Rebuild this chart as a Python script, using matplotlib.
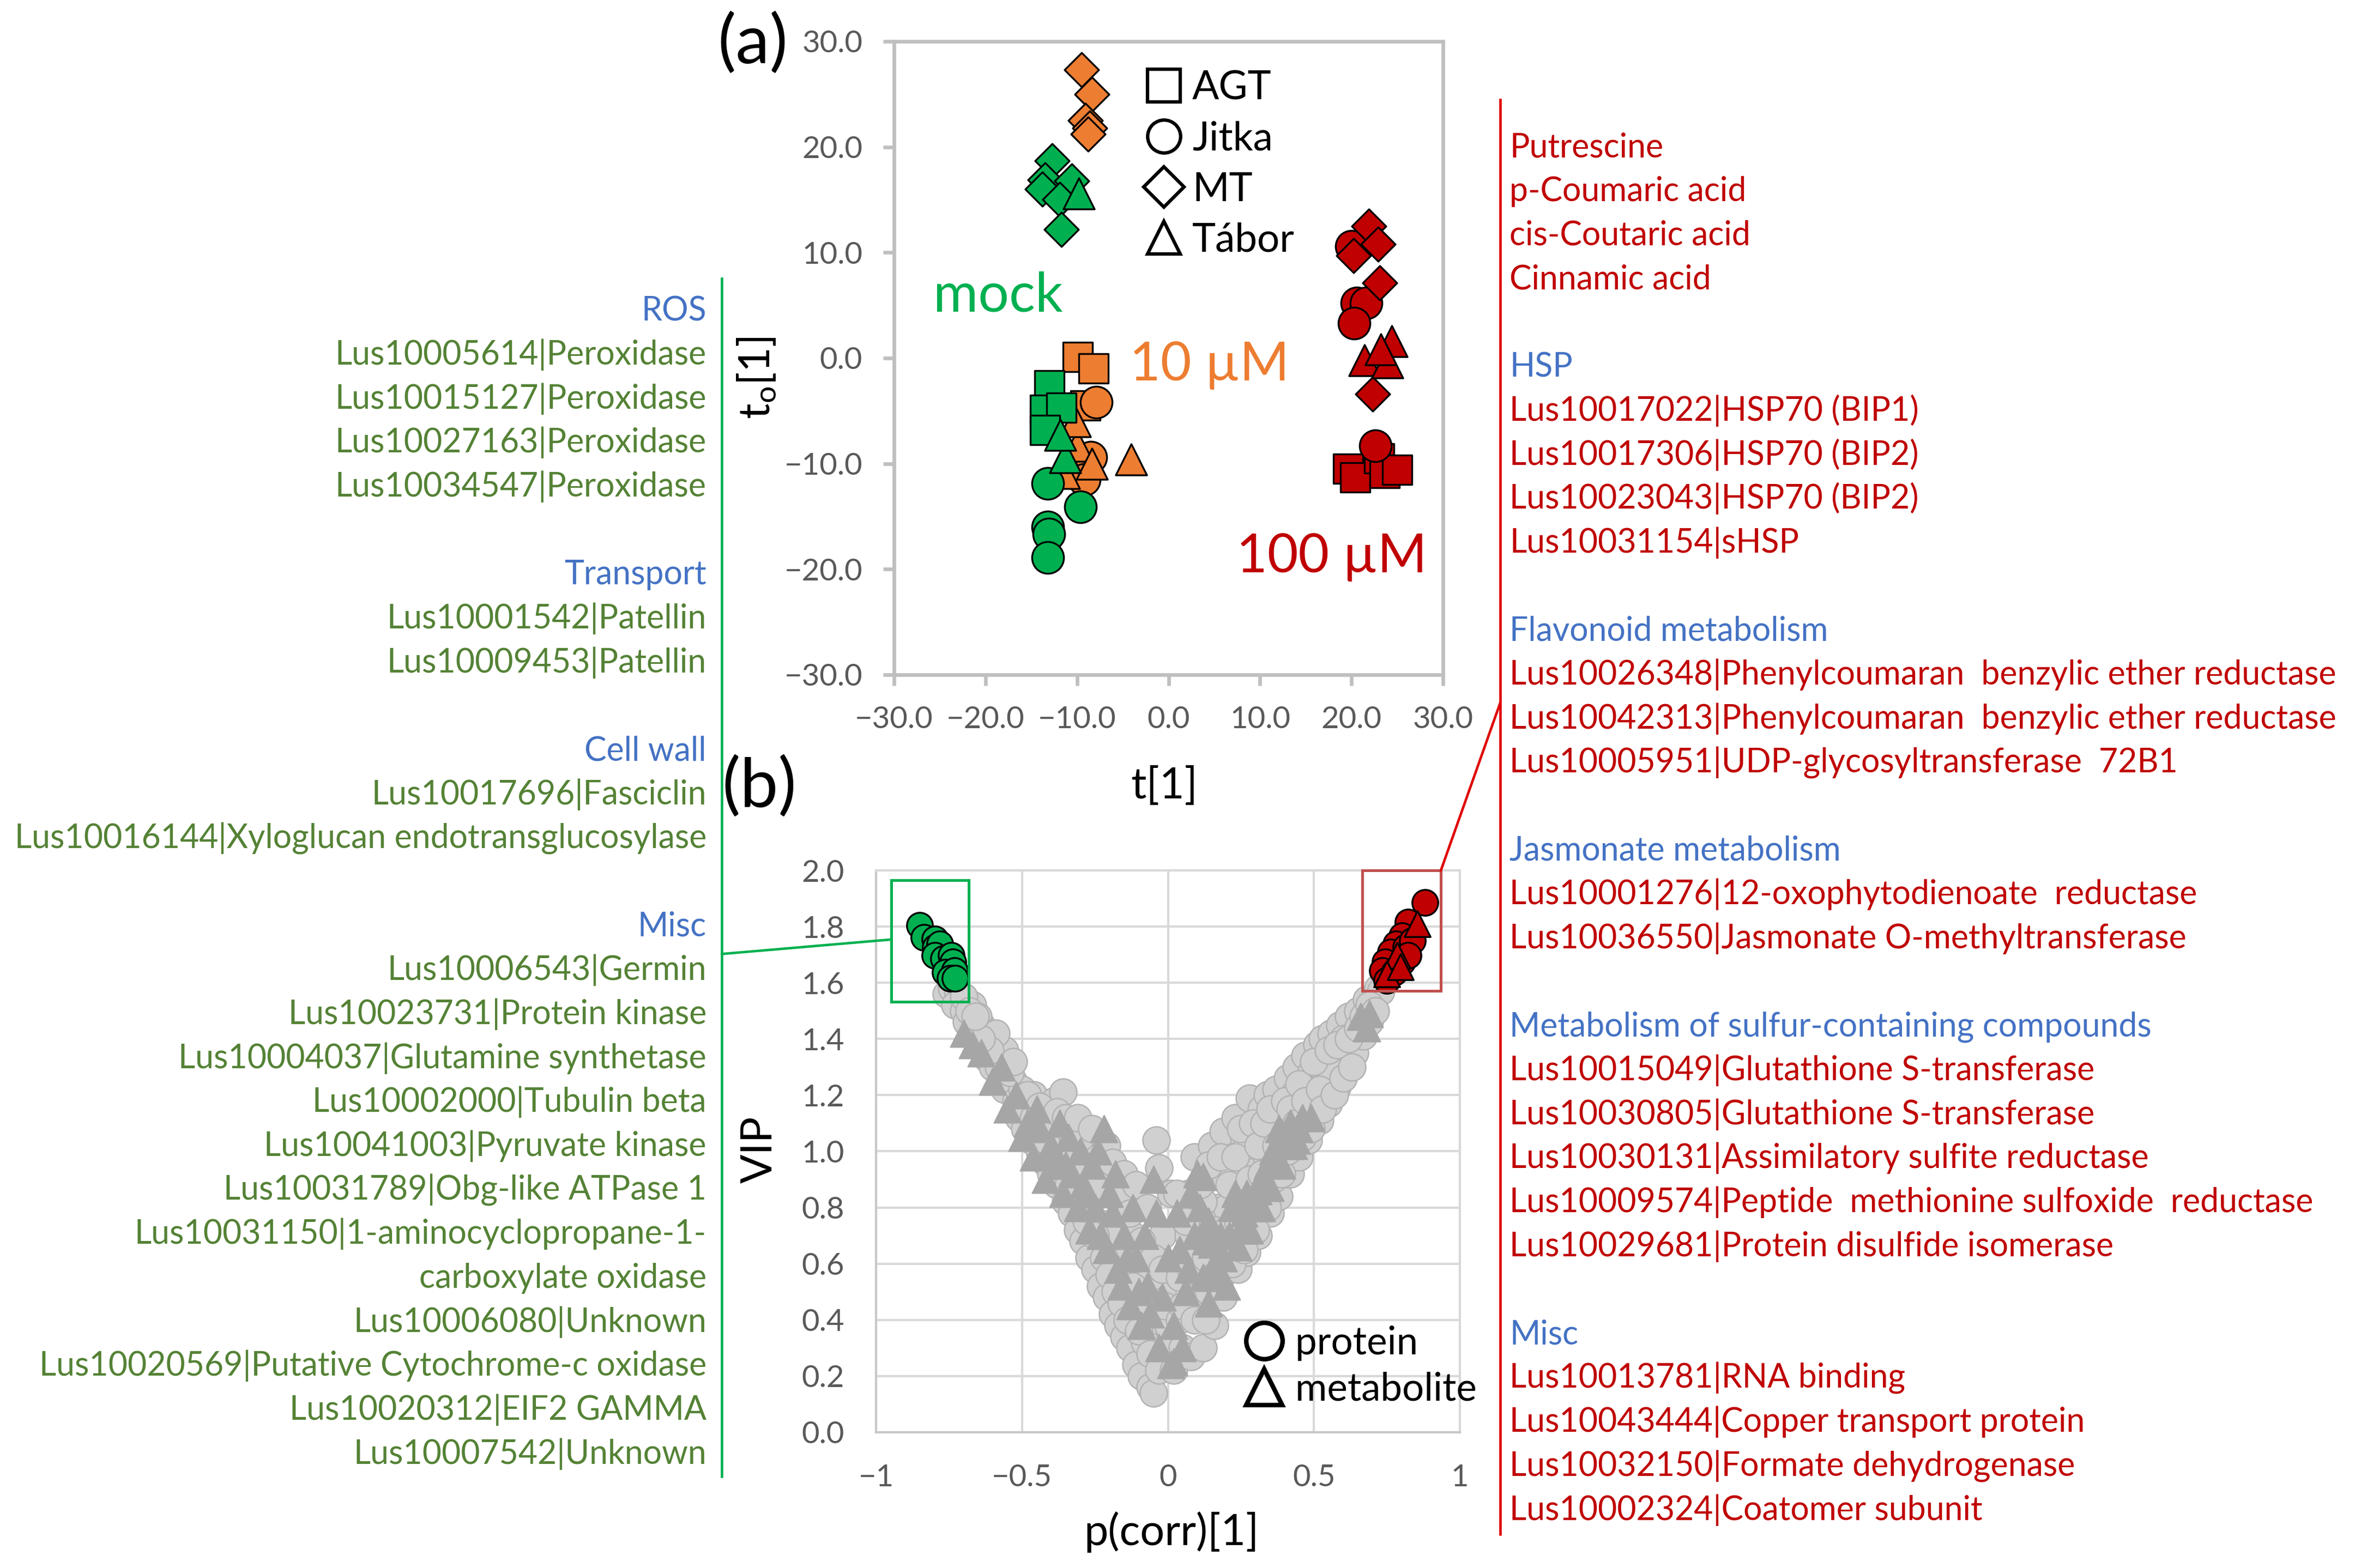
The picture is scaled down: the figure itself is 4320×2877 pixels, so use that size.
import matplotlib
matplotlib.use("Agg")
import matplotlib.pyplot as plt
from matplotlib.patches import Rectangle, ConnectionPatch
from matplotlib.lines import Line2D
from matplotlib.ticker import FuncFormatter, MultipleLocator

plt.rcParams['font.family'] = ['Lato', 'DejaVu Sans']
plt.rcParams['mathtext.fontset'] = 'custom'
plt.rcParams['mathtext.rm'] = 'Lato'
plt.rcParams['mathtext.it'] = 'Lato:italic'

# ---------------- (a) score plot: (t[1], to[1]) per cultivar ----------------
cultivars = ["AGT", "Jitka", "MT", "Tábor"]

scores_10um = {
    "AGT": [(-9.9, 0.1), (-8.2, -1.0), (-9.1, -4.5)],
    "Jitka": [(-7.9, -4.2), (-8.5, -9.4), (-9.2, -11.5)],
    "MT": [(-9.5, 27.3), (-8.4, 25.0), (-9.1, 22.5), (-8.6, 21.8), (-8.8, 21.2)],
    "Tábor": [(-10.0, -8.3), (-8.4, -10.0), (-11.4, -10.9), (-4.1, -9.6), (-10.2, -6.0)],
}
scores_mock = {
    "AGT": [(-13.0, -2.6), (-13.5, -4.9), (-11.7, -4.7), (-13.5, -6.8)],
    "Jitka": [(-13.2, -11.9), (-9.6, -14.1), (-13.2, -16.0), (-13.1, -16.7), (-13.2, -18.9)],
    "MT": [(-12.7, 18.7), (-13.5, 16.9), (-10.6, 16.8), (-13.8, 16.0), (-11.9, 15.0), (-11.7, 12.2)],
    "Tábor": [(-9.8, 15.6), (-11.3, -9.4), (-11.8, -7.3)],
}
scores_100um = {
    "AGT": [(19.6, -10.5), (20.4, -11.3), (23.0, -9.5), (23.6, -10.9), (25.0, -10.6)],
    "Jitka": [(20.0, 10.6), (20.6, 5.2), (21.6, 5.2), (20.3, 3.3), (22.6, -8.3)],
    "MT": [(21.9, 12.5), (22.9, 10.8), (20.2, 9.7), (23.1, 7.1), (22.3, -3.4)],
    "Tábor": [(24.4, 1.6), (21.4, -0.2), (23.9, -0.4), (23.2, 0.8)],
}

# ---------------- (b) S-plot: (p(corr)[1], VIP) ----------------
protein_points = [
    (-0.76, 1.56), (-0.74, 1.58), (-0.72, 1.57), (-0.73, 1.52), (-0.70, 1.50), (-0.69, 1.46),
    (-0.67, 1.52), (-0.66, 1.42), (-0.64, 1.45), (-0.63, 1.38), (-0.62, 1.33), (-0.60, 1.40),
    (-0.60, 1.30), (-0.58, 1.35), (-0.57, 1.26), (-0.56, 1.22), (-0.55, 1.30), (-0.53, 1.25),
    (-0.52, 1.18), (-0.51, 1.12), (-0.50, 1.22), (-0.49, 1.08), (-0.48, 1.16), (-0.47, 1.04),
    (-0.46, 1.20), (-0.45, 1.10), (-0.44, 1.00), (-0.43, 1.14), (-0.42, 0.96), (-0.41, 1.06),
    (-0.40, 0.92), (-0.39, 1.18), (-0.38, 0.88), (-0.37, 1.02), (-0.36, 1.21), (-0.35, 0.82),
    (-0.34, 0.98), (-0.33, 0.78), (-0.32, 1.10), (-0.31, 0.72), (-0.30, 0.90), (-0.29, 0.68),
    (-0.28, 1.02), (-0.27, 0.62), (-0.26, 0.84), (-0.25, 0.58), (-0.24, 0.98), (-0.23, 0.52),
    (-0.22, 0.74), (-0.21, 0.48), (-0.20, 0.90), (-0.19, 0.42), (-0.18, 0.64), (-0.17, 0.38),
    (-0.16, 0.80), (-0.15, 0.34), (-0.14, 0.56), (-0.13, 0.30), (-0.12, 0.70), (-0.11, 0.24),
    (-0.10, 0.46), (-0.09, 0.20), (-0.08, 0.60), (-0.07, 0.35), (-0.06, 0.16), (-0.05, 0.14),
    (-0.04, 1.04), (-0.03, 0.94), (-0.02, 0.50), (-0.01, 0.28),
    (-0.65, 1.48), (-0.62, 1.42), (-0.58, 1.30), (-0.54, 1.28), (-0.50, 1.15), (-0.45, 1.05),
    (-0.41, 1.12), (-0.37, 1.08), (-0.33, 0.95), (-0.30, 1.05), (-0.27, 0.80), (-0.23, 0.85),
    (-0.20, 0.70), (-0.17, 0.62), (-0.14, 0.50), (-0.12, 0.40), (-0.08, 0.32), (-0.06, 0.55),
    (-0.04, 0.40), (-0.02, 0.70), (0.00, 0.38), (0.01, 0.85), (-0.70, 1.55), (-0.68, 1.50),
    (-0.48, 1.20), (-0.46, 1.12), (-0.44, 1.16), (-0.42, 1.04), (-0.40, 1.10), (-0.38, 1.14),
    (-0.36, 0.95), (-0.35, 1.12), (-0.34, 0.88), (-0.32, 0.98), (-0.31, 1.12), (-0.29, 0.95),
    (-0.28, 0.75), (-0.26, 1.08), (-0.25, 0.70), (-0.24, 0.88), (-0.22, 0.62), (-0.21, 1.02),
    (-0.20, 0.56), (-0.19, 0.96), (-0.18, 0.50), (-0.17, 0.85), (-0.16, 0.46), (-0.15, 0.92),
    (-0.14, 0.40), (-0.13, 0.78), (-0.12, 0.52), (-0.11, 0.88), (-0.10, 0.36), (-0.09, 0.68),
    (-0.08, 0.45), (-0.07, 0.80), (-0.06, 0.28), (-0.05, 0.62), (-0.03, 0.22), (-0.02, 0.58),
    (-0.01, 0.45), (0.00, 0.30), (-0.56, 1.36), (-0.53, 1.32), (-0.59, 1.42), (-0.61, 1.36),
    (-0.64, 1.40), (-0.66, 1.48),
    (0.02, 0.22), (0.04, 0.40), (0.05, 0.30), (0.06, 0.62), (0.07, 0.85), (0.08, 0.27),
    (0.09, 0.98), (0.10, 0.45), (0.11, 0.72), (0.12, 0.30), (0.13, 0.90), (0.14, 0.50),
    (0.15, 1.02), (0.16, 0.38), (0.17, 0.80), (0.18, 0.55), (0.19, 1.07), (0.20, 0.62),
    (0.21, 0.95), (0.22, 0.70), (0.23, 1.12), (0.24, 0.58), (0.25, 0.88), (0.26, 1.05),
    (0.27, 0.64), (0.28, 1.19), (0.29, 0.78), (0.30, 0.98), (0.31, 0.70), (0.32, 1.15),
    (0.33, 0.86), (0.34, 1.20), (0.35, 0.78), (0.36, 1.04), (0.37, 1.22), (0.38, 0.84),
    (0.39, 1.12), (0.40, 0.92), (0.41, 1.26), (0.42, 0.92), (0.43, 1.08), (0.44, 1.30),
    (0.45, 0.98), (0.46, 1.20), (0.47, 1.34), (0.48, 1.04), (0.49, 1.28), (0.50, 1.12),
    (0.51, 1.38), (0.52, 1.11), (0.53, 1.40), (0.54, 1.20), (0.55, 1.17), (0.56, 1.42),
    (0.57, 1.28), (0.58, 1.23), (0.59, 1.45), (0.60, 1.32), (0.61, 1.29), (0.62, 1.48),
    (0.63, 1.36), (0.64, 1.35), (0.65, 1.50), (0.66, 1.42), (0.67, 1.41), (0.68, 1.54),
    (0.69, 1.46), (0.70, 1.50), (0.71, 1.56), (0.72, 1.58), (0.73, 1.57),
    (0.20, 0.80), (0.25, 0.95), (0.30, 0.85), (0.35, 1.00), (0.40, 1.05), (0.45, 1.15),
    (0.50, 1.25), (0.55, 1.30), (0.60, 1.40), (0.33, 0.92), (0.38, 1.10), (0.43, 1.20),
    (0.48, 1.22), (0.27, 1.02), (0.22, 0.90), (0.17, 0.92), (0.12, 0.82), (0.07, 0.70),
    (0.04, 0.55), (0.03, 0.85),
    (0.05, 0.45), (0.06, 0.75), (0.08, 0.58), (0.09, 0.40), (0.10, 0.65), (0.11, 0.88),
    (0.13, 0.40), (0.13, 0.62), (0.14, 0.95), (0.15, 0.55), (0.16, 0.72), (0.18, 0.98),
    (0.19, 0.48), (0.20, 0.72), (0.21, 0.88), (0.22, 0.60), (0.23, 0.98), (0.24, 0.75),
    (0.25, 1.08), (0.26, 0.65), (0.28, 0.90), (0.29, 1.10), (0.30, 0.72), (0.31, 1.02),
    (0.32, 0.92), (0.33, 1.10), (0.34, 0.80), (0.35, 1.15), (0.36, 0.90), (0.37, 1.02),
    (0.39, 0.92), (0.40, 1.18), (0.41, 1.00), (0.42, 1.15), (0.44, 1.10), (0.45, 1.24),
    (0.46, 1.05), (0.47, 1.18), (0.49, 1.08), (0.50, 1.32), (0.52, 1.22), (0.53, 1.15),
    (0.55, 1.36), (0.57, 1.20), (0.58, 1.38), (0.60, 1.26), (0.62, 1.40), (0.63, 1.30),
    (0.65, 1.44), (0.67, 1.48), (0.69, 1.52), (0.71, 1.50),
]
metabolite_points = [
    (-0.70, 1.42), (-0.67, 1.38), (-0.64, 1.35), (-0.60, 1.25), (-0.57, 1.30), (-0.55, 1.15),
    (-0.52, 1.20), (-0.50, 1.05), (-0.48, 1.10), (-0.46, 0.98), (-0.44, 1.08), (-0.42, 0.90),
    (-0.40, 1.02), (-0.38, 0.95), (-0.36, 0.85), (-0.34, 1.05), (-0.33, 0.92), (-0.31, 0.80),
    (-0.29, 0.88), (-0.27, 0.72), (-0.25, 0.80), (-0.22, 1.08), (-0.24, 1.00), (-0.21, 0.65),
    (-0.19, 0.78), (-0.17, 0.58), (-0.15, 0.70), (-0.13, 0.45), (-0.11, 0.62), (-0.09, 0.38),
    (-0.07, 0.52), (-0.05, 0.90), (-0.04, 0.78), (-0.03, 0.30), (0.00, 0.62), (0.01, 0.24),
    (0.03, 0.78), (0.06, 0.50), (0.08, 0.85), (0.10, 0.92), (0.12, 0.55), (0.14, 0.75),
    (0.16, 0.60), (0.18, 0.70), (0.20, 0.52), (0.22, 0.80), (0.24, 0.66), (0.26, 0.78),
    (0.28, 0.72), (0.30, 0.86), (0.32, 0.80), (0.34, 0.95), (0.36, 1.00), (0.38, 1.08),
    (0.40, 1.02), (0.42, 1.10), (0.44, 1.04), (0.46, 1.12), (0.66, 1.48), (0.68, 1.44),
    (0.69, 1.49), (0.49, 1.12), (0.35, 0.87), (0.31, 0.86), (0.12, 0.91), (0.11, 0.80),
    (0.15, 0.67), (0.07, 0.58), (0.14, 0.46), (0.02, 0.38), (0.02, 0.25),
    (-0.45, 1.15), (-0.41, 0.98), (-0.37, 1.10), (-0.35, 0.95), (-0.30, 1.00), (-0.28, 0.85),
    (-0.26, 0.95), (-0.23, 0.70), (-0.20, 0.85), (-0.18, 0.92), (-0.16, 0.52), (-0.14, 0.62),
    (-0.12, 0.80), (-0.10, 0.50), (-0.08, 0.70), (-0.06, 0.42), (-0.02, 0.48), (0.04, 0.65),
    (0.05, 0.30),
    (0.09, 0.70), (0.13, 0.68), (0.17, 0.55), (0.19, 0.62), (0.21, 0.70), (0.23, 0.85),
    (0.25, 0.72), (0.27, 0.85), (0.29, 0.80), (0.33, 0.88), (0.37, 0.98), (0.39, 0.95),
    (0.41, 1.06), (0.43, 1.02), (0.45, 1.08),
]
mock_marked = [
    (-0.850, 1.805), (-0.836, 1.762), (-0.799, 1.756), (-0.796, 1.727), (-0.782, 1.738),
    (-0.799, 1.697), (-0.769, 1.685), (-0.742, 1.697), (-0.736, 1.674), (-0.762, 1.638),
    (-0.732, 1.643), (-0.746, 1.615), (-0.729, 1.615),
]
high_marked_protein = [
    (0.881, 1.885), (0.823, 1.815), (0.803, 1.768), (0.782, 1.738), (0.762, 1.709),
    (0.816, 1.726), (0.837, 1.750), (0.745, 1.674), (0.735, 1.644), (0.749, 1.609),
    (0.776, 1.638), (0.803, 1.674), (0.823, 1.697),
]
high_marked_metabolite = [(0.854, 1.809), (0.786, 1.697), (0.749, 1.632), (0.796, 1.656)]

# ---------------- annotation lists ----------------
left_rows = [
    ("ROS", "cat"),
    ("Lus10005614|Peroxidase", "item"),
    ("Lus10015127|Peroxidase", "item"),
    ("Lus10027163|Peroxidase", "item"),
    ("Lus10034547|Peroxidase", "item"),
    ("", None),
    ("Transport", "cat"),
    ("Lus10001542|Patellin", "item"),
    ("Lus10009453|Patellin", "item"),
    ("", None),
    ("Cell wall", "cat"),
    ("Lus10017696|Fasciclin", "item"),
    ("Lus10016144|Xyloglucan endotransglucosylase", "item"),
    ("", None),
    ("Misc", "cat"),
    ("Lus10006543|Germin", "item"),
    ("Lus10023731|Protein kinase", "item"),
    ("Lus10004037|Glutamine synthetase", "item"),
    ("Lus10002000|Tubulin beta", "item"),
    ("Lus10041003|Pyruvate kinase", "item"),
    ("Lus10031789|Obg-like ATPase 1", "item"),
    ("Lus10031150|1-aminocyclopropane-1-", "item"),
    ("carboxylate oxidase", "item"),
    ("Lus10006080|Unknown", "item"),
    ("Lus10020569|Putative Cytochrome-c oxidase", "item"),
    ("Lus10020312|EIF2 GAMMA", "item"),
    ("Lus10007542|Unknown", "item"),
]
right_rows = [
    ("Putrescine", "item"),
    ("p-Coumaric acid", "item"),
    ("cis-Coutaric acid", "item"),
    ("Cinnamic acid", "item"),
    ("", None),
    ("HSP", "cat"),
    ("Lus10017022|HSP70 (BIP1)", "item"),
    ("Lus10017306|HSP70 (BIP2)", "item"),
    ("Lus10023043|HSP70 (BIP2)", "item"),
    ("Lus10031154|sHSP", "item"),
    ("", None),
    ("Flavonoid metabolism", "cat"),
    ("Lus10026348|Phenylcoumaran  benzylic ether reductase", "item"),
    ("Lus10042313|Phenylcoumaran  benzylic ether reductase", "item"),
    ("Lus10005951|UDP-glycosyltransferase  72B1", "item"),
    ("", None),
    ("Jasmonate metabolism", "cat"),
    ("Lus10001276|12-oxophytodienoate  reductase", "item"),
    ("Lus10036550|Jasmonate O-methyltransferase", "item"),
    ("", None),
    ("Metabolism of sulfur-containing compounds", "cat"),
    ("Lus10015049|Glutathione S-transferase", "item"),
    ("Lus10030805|Glutathione S-transferase", "item"),
    ("Lus10030131|Assimilatory sulfite reductase", "item"),
    ("Lus10009574|Peptide  methionine sulfoxide  reductase", "item"),
    ("Lus10029681|Protein disulfide isomerase", "item"),
    ("", None),
    ("Misc", "cat"),
    ("Lus10013781|RNA binding", "item"),
    ("Lus10043444|Copper transport protein", "item"),
    ("Lus10032150|Formate dehydrogenase", "item"),
    ("Lus10002324|Coatomer subunit", "item"),
]

GREEN = "#00B050"
ORANGE = "#ED7D31"
RED = "#C00000"
TXT_GREEN = "#548235"
TXT_BLUE = "#4472C4"
TICK_GRAY = "#595959"

fig = plt.figure(figsize=(14.4, 9.59), dpi=300)
FIG_H = 9.59

# ================= panel (a) =================
ax_a = fig.add_axes([0.3796, 0.5697, 0.2332, 0.4039])
marker_of = {"AGT": "s", "Jitka": "o", "MT": "D", "Tábor": "^"}
size_of = {"s": 174, "o": 196, "D": 114, "^": 188}
for scores, col in [(scores_10um, ORANGE), (scores_mock, GREEN), (scores_100um, RED)]:
    for cv in cultivars:
        pts = scores[cv]
        m = marker_of[cv]
        ax_a.scatter([p[0] for p in pts], [p[1] for p in pts], marker=m, s=size_of[m],
                     facecolor=col, edgecolor="black", linewidth=0.8, zorder=3)

ax_a.set_xlim(-30, 30)
ax_a.set_ylim(-30, 30)
ax_a.xaxis.set_major_locator(MultipleLocator(10))
ax_a.yaxis.set_major_locator(MultipleLocator(10))
fmt1 = FuncFormatter(lambda v, p: f"{v:.1f}".replace("-", "\u2212"))
ax_a.xaxis.set_major_formatter(fmt1)
ax_a.yaxis.set_major_formatter(fmt1)
for sp in ax_a.spines.values():
    sp.set_color("#BFBFBF")
    sp.set_linewidth(1.6)
ax_a.tick_params(direction="out", length=4.8, width=1.6, color="#BFBFBF",
                 labelcolor=TICK_GRAY, labelsize=13.5, pad=9)

ax_a.set_xlabel("t[1]", fontsize=19, va="center")
ax_a.xaxis.set_label_coords(0.492, -0.176)
ax_a.set_ylabel(r"t$_{\mathregular{o}}$[1]", fontsize=19, va="center")
ax_a.yaxis.set_label_coords(-0.250, 0.469)

ax_a.text(-25.7, 4.4, "mock", color=GREEN, fontsize=24, va="baseline")
ax_a.text(-4.25, -2.1, "10 µM", color=ORANGE, fontsize=23.5, va="baseline")
ax_a.text(7.4, -20.3, "100 µM", color=RED, fontsize=23.5, va="baseline")

leg_a = [Line2D([], [], ls="none", marker=marker_of[cv], mfc="none", mec="black", mew=1.5,
                ms=(12.5 if marker_of[cv] == "D" else 14.5), label=cv) for cv in cultivars]
ax_a.legend(handles=leg_a, frameon=False, loc="upper left", bbox_to_anchor=(0.455, 0.955),
            borderaxespad=0, borderpad=0, handlelength=1.0, handletextpad=0.22,
            labelspacing=0.36, fontsize=17.5)

# ================= panel (b) =================
ax_b = fig.add_axes([0.3720, 0.0866, 0.2479, 0.3583])
ax_b.scatter([p[0] for p in protein_points], [p[1] for p in protein_points], marker="o", s=144,
             facecolor="#D0D0D0", edgecolor="#B2B2B2", linewidth=0.6, zorder=2)
ax_b.scatter([p[0] for p in metabolite_points], [p[1] for p in metabolite_points], marker="^",
             s=144, facecolor="#A6A6A6", edgecolor="#A6A6A6", linewidth=0.5, zorder=2)
ax_b.scatter([p[0] for p in mock_marked], [p[1] for p in mock_marked], marker="o", s=130,
             facecolor=GREEN, edgecolor="black", linewidth=0.8, zorder=3)
ax_b.scatter([p[0] for p in high_marked_protein], [p[1] for p in high_marked_protein], marker="o",
             s=130, facecolor=RED, edgecolor="black", linewidth=0.8, zorder=3)
ax_b.scatter([p[0] for p in high_marked_metabolite], [p[1] for p in high_marked_metabolite],
             marker="^", s=130, facecolor=RED, edgecolor="black", linewidth=0.8, zorder=4)

ax_b.set_xlim(-1, 1)
ax_b.set_ylim(0, 2.0)
ax_b.xaxis.set_major_locator(MultipleLocator(0.5))
ax_b.yaxis.set_major_locator(MultipleLocator(0.2))
ax_b.xaxis.set_major_formatter(FuncFormatter(lambda v, p: f"{v:g}".replace("-", "\u2212")))
ax_b.yaxis.set_major_formatter(FuncFormatter(lambda v, p: f"{v:.1f}"))
ax_b.grid(True, color="#D9D9D9", linewidth=1.0)
ax_b.set_axisbelow(True)
for sp in ax_b.spines.values():
    sp.set_color("#D9D9D9")
    sp.set_linewidth(1.0)
ax_b.spines["left"].set_color("#C8C8C8")
ax_b.spines["bottom"].set_color("#C8C8C8")
ax_b.tick_params(length=0, labelcolor=TICK_GRAY, labelsize=13.5, pad=14)

ax_b.set_xlabel("p(corr)[1]", fontsize=19, va="center")
ax_b.xaxis.set_label_coords(0.506, -0.178)
ax_b.set_ylabel("VIP", fontsize=19, va="center")
ax_b.yaxis.set_label_coords(-0.199, 0.503)

leg_b = [
    Line2D([], [], ls="none", marker="o", mfc="none", mec="black", mew=2.0, ms=16, label="protein"),
    Line2D([], [], ls="none", marker="^", mfc="none", mec="black", mew=2.0, ms=16, label="metabolite"),
]
ax_b.legend(handles=leg_b, frameon=False, loc="upper left", bbox_to_anchor=(0.632, 0.19),
            borderaxespad=0, borderpad=0, handlelength=1.0, handletextpad=0.3,
            labelspacing=0.28, fontsize=17)

# selection boxes
ax_b.add_patch(Rectangle((-0.948, 1.533), 0.266, 0.432, fill=False, edgecolor=GREEN,
                         linewidth=1.2, zorder=5, clip_on=False))
ax_b.add_patch(Rectangle((0.665, 1.572), 0.270, 0.428, fill=False, edgecolor="#C0504D",
                         linewidth=1.2, zorder=5, clip_on=False))

# panel letters
fig.text(0.3197, 0.9725, "(a)", fontsize=30, ha="center", va="center")
fig.text(0.3225, 0.4984, "(b)", fontsize=30, ha="center", va="center")

# brackets and connectors
fig.add_artist(Line2D([0.3065, 0.3065], [0.0584, 0.8225], transform=fig.transFigure,
                      color=GREEN, linewidth=1.1))
fig.add_artist(Line2D([0.637, 0.637], [0.0216, 0.9364], transform=fig.transFigure,
                      color="#E00000", linewidth=1.1))
fig.add_artist(ConnectionPatch(xyA=(0.3065, 0.3916), coordsA=fig.transFigure,
                               xyB=(-0.948, 1.754), coordsB=ax_b.transData,
                               color=GREEN, linewidth=1.1))
fig.add_artist(ConnectionPatch(xyA=(0.935, 2.0), coordsA=ax_b.transData,
                               xyB=(0.637, 0.5516), coordsB=fig.transFigure,
                               color="#E00000", linewidth=1.1))

# text columns
COL_FS = 14.6
ROW_STEP = 0.02804
cap_off = 0.36 * COL_FS / 72 / FIG_H


def draw_column(rows, x, y0, ha, item_color):
    for i, (txt, kind) in enumerate(rows):
        if not txt:
            continue
        color = TXT_BLUE if kind == "cat" else item_color
        fig.text(x, y0 - i * ROW_STEP - cap_off, txt, ha=ha, va="baseline",
                 color=color, fontsize=COL_FS)


draw_column(left_rows, 0.300, 0.8031, "right", TXT_GREEN)
draw_column(right_rows, 0.641, 0.9075, "left", RED)

fig.savefig("out.png", dpi=300)
